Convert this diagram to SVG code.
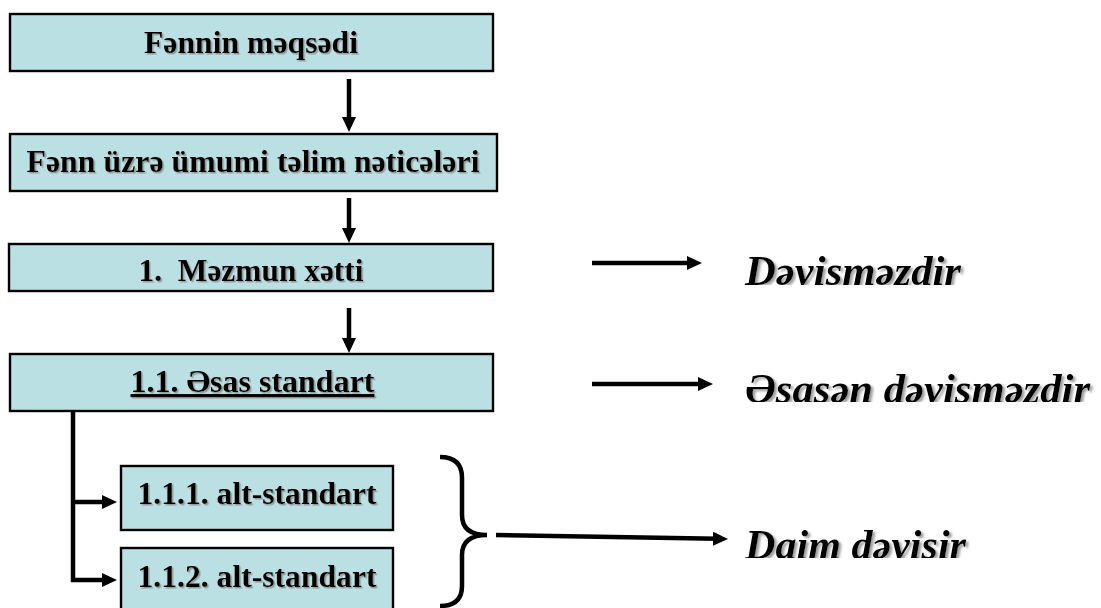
<svg xmlns="http://www.w3.org/2000/svg" width="1101" height="608" viewBox="0 0 1101 608">
<style>
.box{fill:#BBE0E3;stroke:#000;stroke-width:2.4}
.bt{font-family:"Liberation Serif","Times New Roman",serif;font-weight:bold;font-size:31px;fill:#000;text-anchor:middle;filter:url(#ts)}
.it{font-family:"Liberation Serif","Times New Roman",serif;font-weight:bold;font-style:italic;font-size:42px;fill:#000;filter:url(#ts2)}
.ln{fill:none;stroke:#000;stroke-width:4.5}
</style>
<defs>
<filter id="ts" x="-5%" y="-20%" width="110%" height="140%">
<feDropShadow dx="1.5" dy="1.5" stdDeviation="0.6" flood-color="#888" flood-opacity="0.8"/>
</filter>
<filter id="ts2" x="-5%" y="-20%" width="110%" height="140%">
<feDropShadow dx="2.5" dy="2" stdDeviation="0.8" flood-color="#888" flood-opacity="0.8"/>
</filter>
<marker id="ah" markerUnits="userSpaceOnUse" markerWidth="16" markerHeight="16" refX="5" refY="7" orient="auto">
<path d="M0,0 L15,7 L0,14 z" fill="#000"/>
</marker>
<clipPath id="c1"><rect x="700" y="230" width="400" height="55"/></clipPath>
<clipPath id="c2"><rect x="700" y="350" width="401" height="52"/></clipPath>
<clipPath id="c3"><rect x="700" y="505" width="400" height="53"/></clipPath>
</defs>

<g id="connectors">
<path class="ln" d="M349,79 L349,122" marker-end="url(#ah)"/>
<path class="ln" d="M349,198 L349,233" marker-end="url(#ah)"/>
<path class="ln" d="M349,308 L349,343" marker-end="url(#ah)"/>
<path class="ln" d="M73,411 L73,580 L107,580" marker-end="url(#ah)"/>
<path class="ln" d="M73,502 L107,502" marker-end="url(#ah)"/>
<path class="ln" d="M592,263 L692,263" marker-end="url(#ah)"/>
<path class="ln" d="M592,384 L703,384" marker-end="url(#ah)"/>
<path class="ln" d="M496,535 L718,538.8" marker-end="url(#ah)"/>
<path class="ln" stroke-width="4" d="M440,457 Q462,457 462,478 L462,515 Q462,535 487,535 Q462,535 462,555 L462,586 Q462,606 440,606"/>
</g>

<g id="n1">
<rect class="box" x="10" y="14" width="483" height="57"/>
<text class="bt" x="251" y="53" textLength="214" lengthAdjust="spacingAndGlyphs">Fənnin məqsədi</text>
</g>
<g id="n2">
<rect class="box" x="10" y="134" width="487" height="57"/>
<text class="bt" x="253" y="172" textLength="453" lengthAdjust="spacingAndGlyphs">Fənn üzrə ümumi təlim nəticələri</text>
</g>
<g id="n3">
<rect class="box" x="9" y="244" width="484" height="47"/>
<text class="bt" x="251" y="281" textLength="225" lengthAdjust="spacingAndGlyphs" xml:space="preserve">1.  Məzmun xətti</text>
</g>
<g id="n4">
<rect class="box" x="10" y="354" width="483" height="57"/>
<text class="bt" x="252.5" y="392" textLength="244" lengthAdjust="spacingAndGlyphs" text-decoration="underline">1.1. Əsas standart</text>
</g>
<g id="n5">
<rect class="box" x="121" y="466" width="272" height="64"/>
<text class="bt" x="257" y="504" textLength="239" lengthAdjust="spacingAndGlyphs">1.1.1. alt-standart</text>
</g>
<g id="n6">
<rect class="box" x="121" y="548" width="272" height="70"/>
<text class="bt" x="257" y="587" textLength="239" lengthAdjust="spacingAndGlyphs">1.1.2. alt-standart</text>
</g>

<g id="l1" clip-path="url(#c1)">
<text class="it" x="745" y="285" textLength="216" lengthAdjust="spacingAndGlyphs">Dəyişməzdir</text>
</g>
<g id="l2" clip-path="url(#c2)">
<text class="it" x="745" y="403" textLength="345" lengthAdjust="spacingAndGlyphs">Əsasən dəyişməzdir</text>
</g>
<g id="l3" clip-path="url(#c3)">
<text class="it" x="745" y="559" textLength="221" lengthAdjust="spacingAndGlyphs">Daim dəyişir</text>
</g>
</svg>
